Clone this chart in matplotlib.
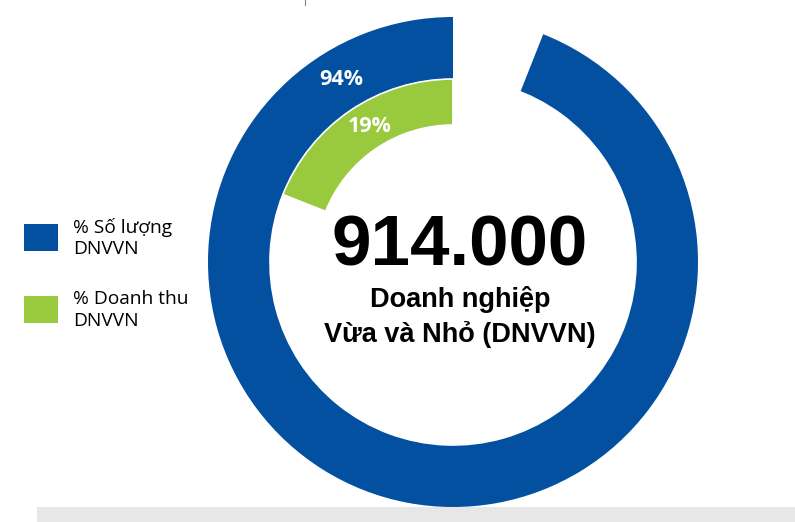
import matplotlib.pyplot as plt
import numpy as np
from matplotlib.patches import Rectangle

# shares shown in the two rings (percent)
outer_label = "% Số lượng\nDNVVN"
inner_label = "% Doanh thu\nDNVVN"
outer_value = 94
inner_value = 19
total_count = "914.000"
subtitle = ["Doanh nghiệp", "Vừa và Nhỏ (DNVVN)"]

BLUE = "#0450a0"
GREEN = "#99c93c"

fig = plt.figure(figsize=(7.95, 5.22), dpi=100)
ax = fig.add_axes([0, 0, 1, 1])

cx, cy = 453, 260
r_out, r_mid, r_in = 245, 183, 137

ax.pie([outer_value, 100 - outer_value], colors=[BLUE, "none"], startangle=90,
       counterclock=True, radius=r_out, center=(cx, cy), frame=True,
       wedgeprops=dict(width=r_out - r_mid, edgecolor="none"))
ax.pie([inner_value, 100 - inner_value], colors=[GREEN, "none"], startangle=90,
       counterclock=True, radius=r_mid, center=(cx, cy), frame=True,
       wedgeprops=dict(width=r_mid - r_in, edgecolor="white", linewidth=1.2))
# pie() resets limits when frame=True, so set them afterwards
ax.set_xlim(0, 795)
ax.set_ylim(0, 522)
ax.set_aspect("equal")
ax.axis("off")

# percentage labels, both near the middle angle of the inner arc
ang = np.deg2rad(90 + inner_value / 100 * 360 / 2 - 3)
for r, val in [((r_out + r_mid) / 2 + 1, outer_value), ((r_mid + r_in) / 2, inner_value)]:
    ax.text(cx + r * np.cos(ang), cy + r * np.sin(ang) - 1, f"{val}%", color="white",
            fontsize=15.5, fontweight="bold", family="Open Sans",
            ha="center", va="center")

ax.text(460, 257, total_count, fontsize=51, fontweight="bold", family="Liberation Sans",
        ha="center", va="baseline", color="black")
for yb, line in zip([215, 180], subtitle):
    ax.text(460, yb, line, fontsize=19.5, fontweight="bold", family="Liberation Sans",
            ha="center", va="baseline", color="black")

# legend
for y0, col, lab in [(271, BLUE, outer_label), (199, GREEN, inner_label)]:
    ax.add_patch(Rectangle((24, y0), 34, 27, color=col, lw=0))
    ax.text(73, y0 + 13, lab, fontsize=13.8, family="Open Sans", va="center",
            ha="left", color="black", linespacing=1.25)

# grey strip at the bottom and the small tick at the top
ax.add_patch(Rectangle((37, 0), 758, 15, color="#e7e7e7", lw=0))
ax.plot([305, 305], [517, 522], color="#808080", lw=0.8)

fig.savefig("out.png", dpi=100)
